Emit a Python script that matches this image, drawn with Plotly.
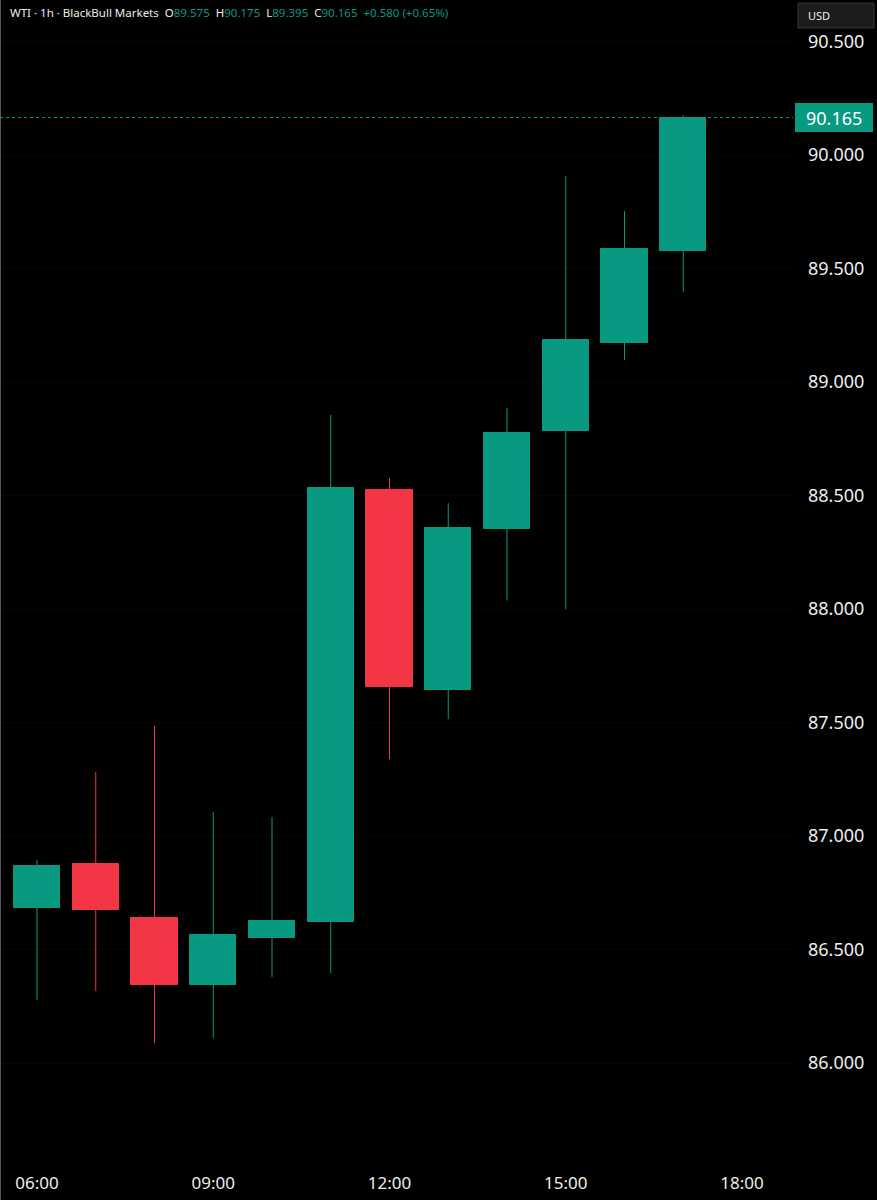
import plotly.graph_objects as go
import pandas as pd

# ---- data ----
times = ["06:00", "07:00", "08:00", "09:00", "10:00", "11:00",
         "12:00", "13:00", "14:00", "15:00", "16:00", "17:00"]
opens = [86.683, 86.877, 86.639, 86.344, 86.551, 86.622,
         88.526, 87.643, 88.354, 88.784, 89.173, 89.575]
highs = [86.894, 87.282, 87.485, 87.106, 87.084, 88.855,
         88.577, 88.466, 88.885, 89.907, 89.753, 90.175]
lows = [86.278, 86.317, 86.088, 86.110, 86.379, 86.396,
        87.338, 87.515, 88.037, 87.999, 89.096, 89.395]
closes = [86.868, 86.674, 86.344, 86.564, 86.626, 88.533,
          87.655, 88.357, 88.777, 89.185, 89.585, 90.165]
price_ticks = [86.0, 86.5, 87.0, 87.5, 88.0, 88.5, 89.0, 89.5, 90.0, 90.5]
last_price = 90.165
header = {"symbol": "WTI · 1h · BlackBull Markets",
          "O": "89.575", "H": "90.175", "L": "89.395", "C": "90.165",
          "chg": "+0.580 (+0.65%)"}

GREEN = "#089981"
RED = "#F23645"
TXT = "#EDEDED"

day = "2024-04-05 "
xs = pd.to_datetime([day + t for t in times])
up = [c >= o for o, c in zip(opens, closes)]
colors = [GREEN if u else RED for u in up]

fig = go.Figure()

# wicks
for flag, col in ((True, GREEN), (False, RED)):
    wx, wy = [], []
    for x, h, l, u in zip(xs, highs, lows, up):
        if u == flag:
            wx += [x, x, None]
            wy += [l, h, None]
    fig.add_trace(go.Scatter(x=wx, y=wy, mode="lines",
                             line=dict(color=col, width=1),
                             hoverinfo="skip", showlegend=False))

# bodies
fig.add_trace(go.Bar(
    x=xs,
    y=[abs(c - o) for o, c in zip(opens, closes)],
    base=[min(o, c) for o, c in zip(opens, closes)],
    width=0.785 * 3600000,
    marker=dict(color=colors, line=dict(color=colors, width=1)),
    hoverinfo="skip", showlegend=False))

PLOT_W = 793.0
PLOT_H = 1162.0

x0 = pd.Timestamp(day + "06:00") - pd.Timedelta(hours=37 / 58.75)
x1 = pd.Timestamp(day + "06:00") + pd.Timedelta(hours=(PLOT_W - 37) / 58.75)

fig.update_layout(
    width=877, height=1200,
    margin=dict(l=0, r=877 - PLOT_W, t=0, b=1200 - PLOT_H),
    paper_bgcolor="#000000", plot_bgcolor="#000000",
    font=dict(family="Noto Sans, sans-serif", color=TXT),
    showlegend=False,
    bargap=0,
    xaxis=dict(
        type="date", range=[x0, x1],
        tickformat="%H:%M", dtick=3 * 3600000,
        tick0=day + "00:00",
        showgrid=False, zeroline=False, showline=False,
        ticks="", ticklabelstandoff=9,
        tickfont=dict(size=17, color=TXT),
        fixedrange=True,
    ),
    yaxis=dict(
        side="right",
        range=[90 - (PLOT_H - 155) / 227.0, 90 + 155 / 227.0],
        tickvals=price_ticks,
        tickformat=".3f",
        showgrid=True, gridcolor="#070707", gridwidth=1,
        zeroline=False, showline=False,
        ticks="", ticklabelstandoff=14,
        tickfont=dict(size=18, color=TXT),
        fixedrange=True,
    ),
)

# left border
fig.add_shape(type="line", xref="paper", yref="paper",
              x0=0.0006, x1=0.0006, y0=-0.05, y1=1.0,
              line=dict(color="#5a5a5a", width=1))

# current price dotted line
fig.add_shape(type="line", xref="paper", yref="y",
              x0=0, x1=1.0, y0=last_price, y1=last_price,
              line=dict(color=GREEN, width=1, dash="dot"))

# price label box
fig.add_shape(type="rect", xref="paper", yref="paper",
              x0=795 / PLOT_W, x1=873 / PLOT_W,
              y0=1 - 132 / PLOT_H, y1=1 - 103 / PLOT_H,
              fillcolor=GREEN, line=dict(width=0), layer="above")
fig.add_annotation(xref="paper", yref="y", x=834 / PLOT_W, y=last_price,
                   text=f"{last_price:.3f}", showarrow=False,
                   xanchor="center", yanchor="middle",
                   font=dict(size=18, color="#FFFFFF"))

# USD box
fig.add_shape(type="rect", xref="paper", yref="paper",
              x0=798 / PLOT_W, x1=874 / PLOT_W,
              y0=1 - 28 / PLOT_H, y1=1 - 3 / PLOT_H,
              fillcolor="#1c1c1c", line=dict(color="#363636", width=1),
              layer="above")
fig.add_annotation(xref="paper", yref="paper", x=806 / PLOT_W, y=1 - 15.5 / PLOT_H,
                   text="USD", showarrow=False, xanchor="left", yanchor="middle",
                   font=dict(size=11, color=TXT))

# header
g = lambda s: f"<span style='color:{GREEN}'>{s}</span>"
htext = (f"{header['symbol']}  O{g(header['O'])}  H{g(header['H'])}  "
         f"L{g(header['L'])}  C{g(header['C'])}  {g(header['chg'])}")
fig.add_annotation(xref="paper", yref="paper", x=8 / PLOT_W, y=1 - 13 / PLOT_H,
                   text=htext, showarrow=False, xanchor="left", yanchor="middle",
                   font=dict(size=11.5, color=TXT))

fig.write_html("out.html")
